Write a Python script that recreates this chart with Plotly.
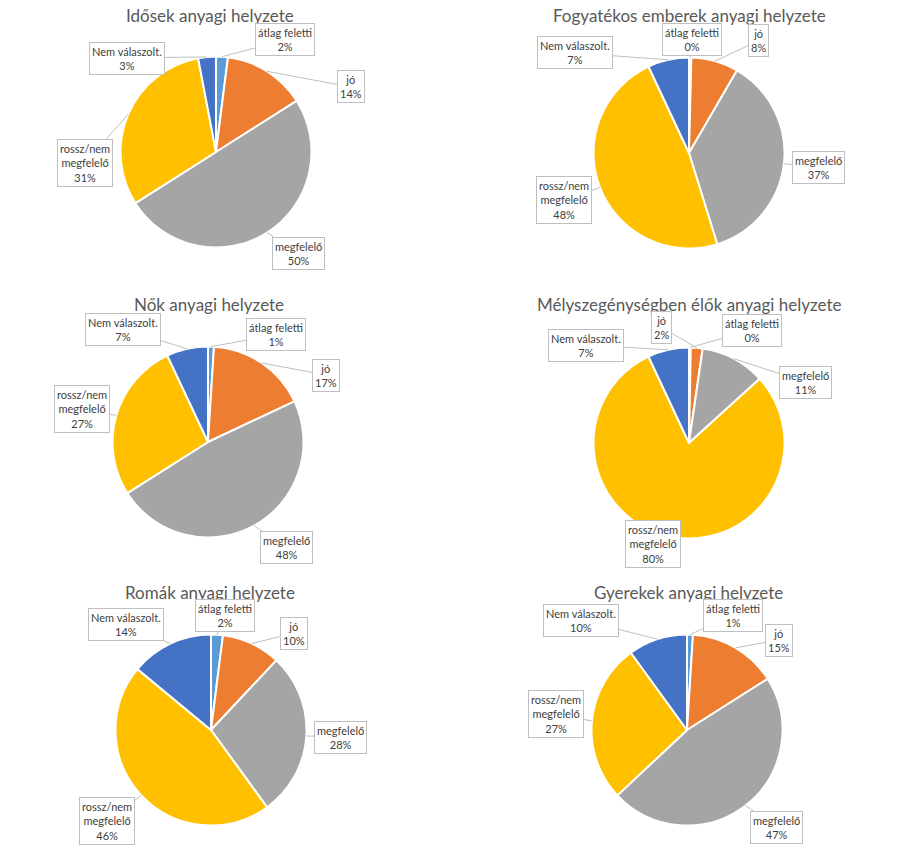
import math
import plotly.graph_objects as go

# ---- data ----
categories = ["átlag feletti", "jó", "megfelelő", "rossz/nem megfelelő", "Nem válaszolt."]
label_lines = ["átlag feletti", "jó", "megfelelő", "rossz/nem<br>megfelelő", "Nem válaszolt."]
titles = [
    "Idősek anyagi helyzete",
    "Fogyatékos emberek anyagi helyzete",
    "Nők anyagi helyzete",
    "Mélyszegénységben élők anyagi helyzete",
    "Romák anyagi helyzete",
    "Gyerekek anyagi helyzete",
]
idosek = [2, 14, 50, 31, 3]
fogyatekos = [0.4, 8, 37, 48, 7]
nok = [1, 17, 48, 27, 7]
melyszegeny = [0.3, 2, 11, 80, 7]
romak = [2, 10, 28, 46, 14]
gyerekek = [1, 15, 47, 27, 10]
series = [idosek, fogyatekos, nok, melyszegeny, romak, gyerekek]

# ---- layout / style ----
colors = ["#5B9BD5", "#ED7D31", "#A5A5A5", "#FFC000", "#4472C4"]
W, H = 915, 855
R = 95.5
centers = [(216, 152), (689, 153), (208, 442), (689, 443), (211, 730), (687, 730)]
title_pos = [(210, 15), (689, 15), (209, 305), (689, 305), (210, 592), (688, 592)]
# label box centre offsets from pie centre (px, y downward)
box_offsets = [
    [(69, -112), (135, -65), (82, 101), (-131, 11), (-89, -94)],
    [(3, -114), (69, -112), (129, 14), (-125, 47), (-114, -100)],
    [(68, -107), (118, -67), (78, 105), (-126, -33), (-85, -113)],
    [(63, -113), (-28, -116), (116, -61), (-36, 101), (-103, -98)],
    [(14, -115), (83, -97), (129, 7), (-104, 91), (-85, -106)],
    [(46, -115), (92, -90), (89, 97), (-131, -16), (-106, -110)],
]

FONT = "Lato, Calibri, sans-serif"
fig = go.Figure()
annotations = []

for i, vals in enumerate(series):
    cx, cy = centers[i]
    fig.add_trace(go.Pie(
        labels=categories, values=vals, sort=False, direction="clockwise",
        rotation=0, textinfo="none", hoverinfo="label+percent",
        marker=dict(colors=colors, line=dict(color="white", width=2)),
        domain=dict(x=[(cx - R) / W, (cx + R) / W], y=[1 - (cy + R) / H, 1 - (cy - R) / H]),
        showlegend=False,
    ))
    tx, ty = title_pos[i]
    annotations.append(dict(
        x=tx / W, y=1 - ty / H, xref="paper", yref="paper", text=titles[i],
        showarrow=False, xanchor="center", yanchor="middle",
        font=dict(family=FONT, size=17, color="#595959"),
    ))
    total = sum(vals)
    cum = 0.0
    for j, v in enumerate(vals):
        mid = (cum + v / 2) / total * 2 * math.pi
        cum += v
        pdx, pdy = R * math.sin(mid), -R * math.cos(mid)
        bdx, bdy = box_offsets[i][j]
        pct = round(v / total * 100)
        annotations.append(dict(
            x=(cx + pdx) / W, y=1 - (cy + pdy) / H, xref="paper", yref="paper",
            ax=bdx - pdx, ay=bdy - pdy,
            text=f"{label_lines[j]}<br>{pct}%",
            showarrow=True, arrowhead=0, arrowwidth=1, arrowcolor="#BFBFBF", standoff=0,
            bordercolor="#BFBFBF", borderwidth=1, borderpad=2, bgcolor="white",
            align="center",
            font=dict(family=FONT, size=11, color="#404040"),
        ))

fig.update_layout(
    width=W, height=H, margin=dict(l=0, r=0, t=0, b=0),
    paper_bgcolor="white", plot_bgcolor="white",
    annotations=annotations, showlegend=False,
)
fig.write_html("out.html", config={"displayModeBar": False},
               post_script="document.body.style.margin='0px';")
